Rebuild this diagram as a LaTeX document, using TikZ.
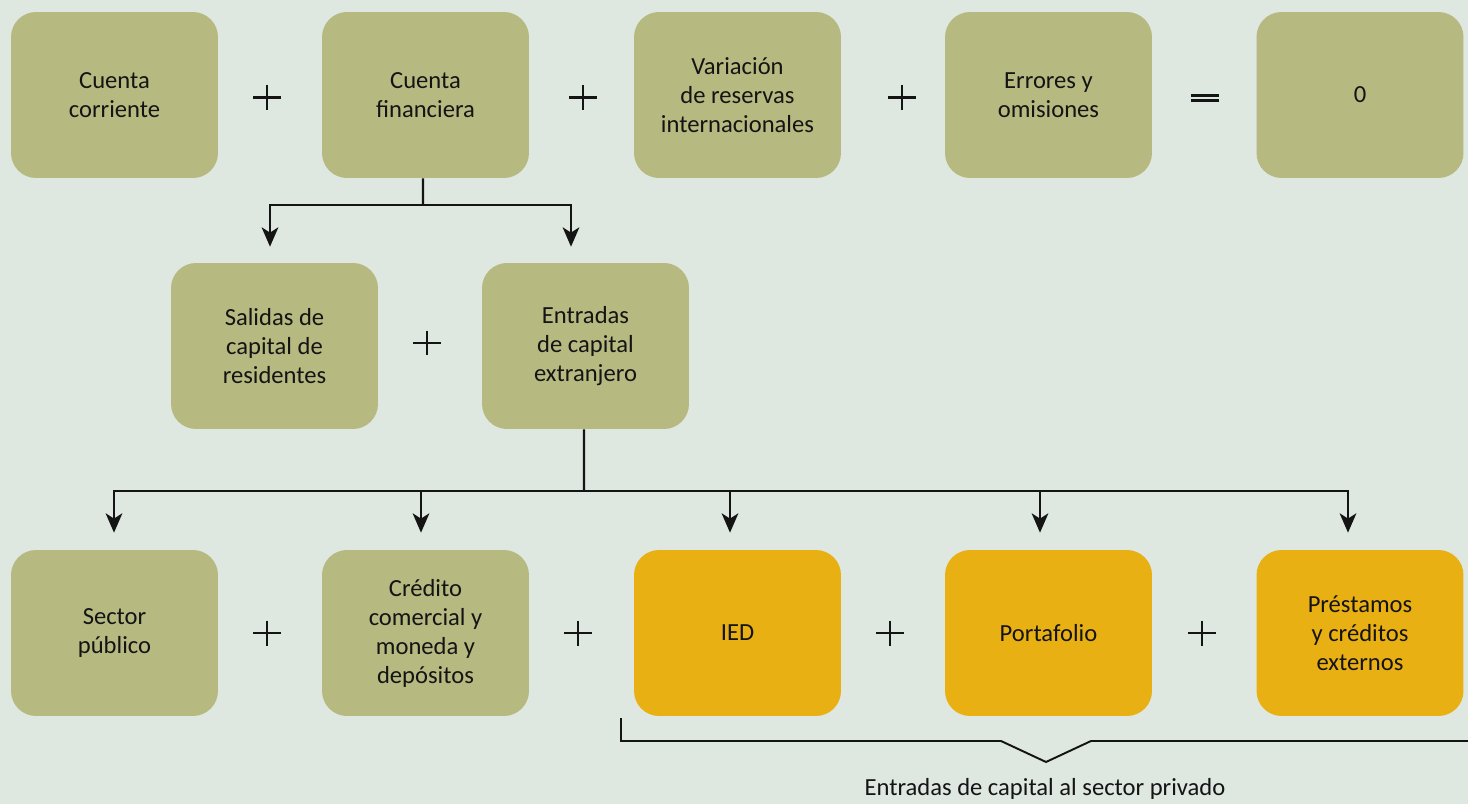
\documentclass[tikz,border=0pt]{standalone}
\usepackage{fontspec}
\setmainfont{Carlito}
\usetikzlibrary{arrows.meta}
\definecolor{bgc}{RGB}{223,231,225}
\definecolor{olive}{RGB}{182,185,128}
\definecolor{amber}{RGB}{233,176,20}
\definecolor{ink}{RGB}{20,20,20}
\tikzset{
  box/.style={rectangle, rounded corners=0.5cm, fill=olive, minimum width=4.14cm, minimum height=3.32cm, align=center, font=\fontsize{14}{16.5}\selectfont, text=ink, inner sep=0pt},
  obox/.style={box, fill=amber},
  plussign/.style={rectangle, inner sep=0pt, minimum width=0.56cm, minimum height=0.5cm,
    path picture={\draw[ink, line width=1.4pt]
      (path picture bounding box.north) -- (path picture bounding box.south)
      (path picture bounding box.west) -- (path picture bounding box.east);}},
  eqsign/.style={rectangle, inner sep=0pt, minimum width=0.56cm, minimum height=0.3cm,
    path picture={\draw[ink, line width=1.5pt]
      ([yshift=0.05cm]path picture bounding box.west) -- ([yshift=0.05cm]path picture bounding box.east)
      ([yshift=-0.05cm]path picture bounding box.west) -- ([yshift=-0.05cm]path picture bounding box.east);}},
  conn/.style={draw=ink, line width=1.2pt},
  arr/.style={conn, -{Stealth[length=11pt,width=9.5pt,inset=3pt]}},
}
\begin{document}
\begin{tikzpicture}[x=0.02cm,y=-0.02cm]
\fill[bgc] (0,0) rectangle (1468,804);
\useasboundingbox (0,0) rectangle (1468,804);
% row 1
\node[box] (cc) at (114.5,95) {Cuenta\\corriente};
\node[box] (cf) at (425.5,95) {Cuenta\\financiera};
\node[box] (vr) at (737.5,95) {Variación\\de reservas\\internacionales};
\node[box] (eo) at (1048.5,95) {Errores y\\omisiones};
\node[box] (z) at (1360,95) {0};
\node[plussign] (p1) at (267,97.5) {};
\node[plussign] (p2) at (583,97.5) {};
\node[plussign] (p3) at (902,97.5) {};
\node[eqsign] (eq) at (1205,98) {};
% row 2
\node[box] (sal) at (274.5,346) {Salidas de\\capital de\\residentes};
\node[box] (ent) at (585.5,346) {Entradas\\de capital\\extranjero};
\node[plussign] (p4) at (427,343) {};
% row 3
\node[box] (sp) at (114.5,633) {Sector\\público};
\node[box] (cr) at (425.5,633) {Crédito\\comercial y\\moneda y\\depósitos};
\node[obox] (ied) at (737.5,633) {IED};
\node[obox] (port) at (1048.5,633) {Portafolio};
\node[obox] (pre) at (1360,633) {Préstamos\\y créditos\\externos};
\node[plussign] (p5) at (267,633) {};
\node[plussign] (p6) at (578,633) {};
\node[plussign] (p7) at (890,633) {};
\node[plussign] (p8) at (1202,633) {};
% connectors from Cuenta financiera
\coordinate (f1) at (423,205);
\draw[conn] ([xshift=-0.05cm]cf.south) -- (f1);
\draw[arr, shorten >=0.32cm] (f1) -| ([xshift=-0.09cm]sal.north);
\draw[arr, shorten >=0.32cm] (f1) -| ([xshift=-0.29cm]ent.north);
% connectors from Entradas
\coordinate (f2) at (584,491);
\draw[conn] ([xshift=-0.03cm]ent.south) -- (f2);
\draw[arr, shorten >=0.34cm] (f2) -| ([xshift=-0.01cm]sp.north);
\draw[arr, shorten >=0.34cm] (f2) -| ([xshift=-0.09cm]cr.north);
\draw[arr, shorten >=0.34cm] (f2) -| ([xshift=-0.15cm]ied.north);
\draw[arr, shorten >=0.34cm] (f2) -| ([xshift=-0.17cm]port.north);
\draw[arr, shorten >=0.34cm] (f2) -| ([xshift=-0.24cm]pre.north);
% bracket
\coordinate (b0) at (621,718);
\coordinate (b1) at (621,741);
\coordinate (b2) at (1001,741);
\coordinate (b3) at (1046,762);
\coordinate (b4) at (1091,741);
\coordinate (b5) at (1468,741);
\draw[draw=ink, line width=1.1pt] (b0) -- (b1) -- (b2) -- (b3) -- (b4) -- (b5);
\node[font=\fontsize{14}{16.5}\selectfont, text=ink, inner sep=0pt] (lbl) at (1045,789) {Entradas de capital al sector privado};
\end{tikzpicture}
\end{document}
